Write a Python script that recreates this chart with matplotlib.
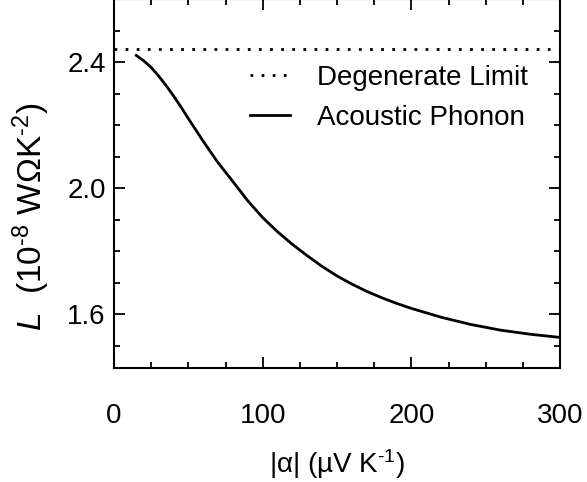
import matplotlib
matplotlib.use("Agg")
import matplotlib.pyplot as plt
import numpy as np

plt.rcParams['font.family'] = ['Liberation Sans', 'DejaVu Sans']
plt.rcParams['mathtext.fontset'] = 'custom'
plt.rcParams['mathtext.rm'] = 'Liberation Sans'
plt.rcParams['mathtext.it'] = 'Liberation Sans:italic'
plt.rcParams['mathtext.bf'] = 'Liberation Sans:bold'

# Data
seebeck = [15, 20, 25, 30, 35, 40, 45, 50, 60, 70, 80, 90, 100, 110, 120, 130,
           140, 150, 160, 170, 180, 190, 200, 220, 240, 260, 280, 300]
lorenz_acoustic = [2.421, 2.404, 2.383, 2.356, 2.326, 2.293, 2.258, 2.221, 2.149,
                   2.081, 2.021, 1.960, 1.907, 1.862, 1.822, 1.786, 1.752, 1.722,
                   1.696, 1.673, 1.653, 1.635, 1.619, 1.591, 1.568, 1.550, 1.537,
                   1.527]
degenerate_limit = 2.44
x_range = [0, 300]

W, H = 587, 482
fig = plt.figure(figsize=(W / 100, H / 100), dpi=100)
ax = fig.add_axes([114 / W, 1 - 368 / H, (560 - 114) / W, 369 / H])

ax.plot(x_range, [degenerate_limit, degenerate_limit], color='black', lw=2,
        linestyle=(0, (1, 3)), label='Degenerate Limit')
ax.plot(seebeck, lorenz_acoustic, color='black', lw=2, label='Acoustic Phonon',
        solid_joinstyle='round')

ax.set_xlim(0, 300)
ax.set_ylim(1.43, 2.6)
ax.set_xticks([0, 100, 200, 300])
ax.set_xticks(np.arange(0, 301, 25), minor=True)
ax.set_yticks([1.6, 2.0, 2.4])
ax.set_yticks(np.arange(1.5, 2.61, 0.1), minor=True)
ax.set_yticklabels(['1.6', '2.0', '2.4'])
ax.tick_params(which='both', direction='in', top=True, right=True,
               labelsize=20, width=1.3)
ax.tick_params(which='major', length=8)
ax.tick_params(which='minor', length=4.5)
ax.tick_params(axis='x', which='major', pad=25)
ax.tick_params(axis='y', which='major', pad=6)
for s in ax.spines.values():
    s.set_linewidth(1.5)

fig.text(337 / W, 1 - 473 / H, r'|α| (µV K$^{\text{-}1}$)', ha='center', va='baseline',
         fontsize=20)
fig.text(31 / W, 1 - 217 / H, r'$\it{L}$  (10$^{\text{-}8}$ WΩK$^{\text{-}2}$)', ha='center',
         va='center', rotation=90, fontsize=24)

leg = ax.legend(loc='upper left', bbox_to_anchor=((250 - 114) / 446, (368 - 65) / 369),
                frameon=False, fontsize=20, handlelength=1.45, handletextpad=0.95,
                labelspacing=0.5, borderpad=0, borderaxespad=0)

fig.savefig('out.png', dpi=100)
